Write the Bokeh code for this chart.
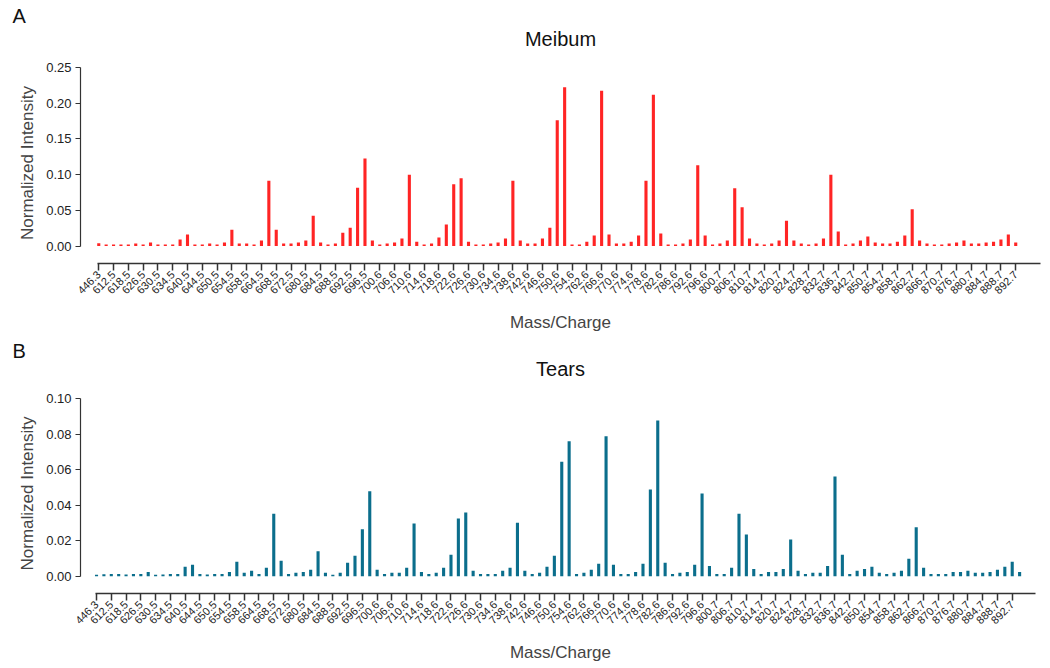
import math
from bokeh.plotting import figure
from bokeh.layouts import column
from bokeh.models import FixedTicker, NumeralTickFormatter, ColumnDataSource, Range1d, Title
from bokeh.embed import file_html
from bokeh.resources import INLINE

tick_labels = ["446.3", "612.5", "618.5", "626.5", "630.5", "634.5", "640.5", "644.5", "650.5",
               "654.5", "658.5", "664.5", "668.5", "672.5", "680.5", "684.5", "688.5", "692.5",
               "696.5", "700.6", "706.6", "710.6", "714.6", "718.6", "722.6", "726.6", "730.6",
               "734.6", "738.6", "742.6", "746.6", "750.6", "754.6", "762.6", "766.6", "770.6",
               "774.6", "778.6", "782.6", "786.6", "792.6", "796.6", "800.7", "806.7", "810.7",
               "814.7", "820.7", "824.7", "828.7", "832.7", "836.7", "842.7", "850.7", "854.7",
               "858.7", "862.7", "866.7", "870.7", "876.7", "880.7", "884.7", "888.7", "892.7"]

meibum = [0.004, 0.002, 0.002, 0.002, 0.002, 0.0035, 0.002, 0.005, 0.002, 0.002,
          0.002, 0.009, 0.016, 0.002, 0.002, 0.0035, 0.002, 0.005, 0.0226, 0.0035,
          0.0035, 0.002, 0.0077, 0.0913, 0.0226, 0.0035, 0.0035, 0.005, 0.0077, 0.0422,
          0.005, 0.002, 0.0035, 0.0184, 0.0254, 0.0817, 0.1225, 0.0077, 0.002, 0.0035,
          0.005, 0.0105, 0.0997, 0.006, 0.002, 0.0035, 0.012, 0.030, 0.0864, 0.0948,
          0.006, 0.002, 0.002, 0.0035, 0.005, 0.0105, 0.0913, 0.0077, 0.0035, 0.0035,
          0.0105, 0.0254, 0.176, 0.2225, 0.002, 0.002, 0.006, 0.0147, 0.2173, 0.016,
          0.0035, 0.0035, 0.006, 0.0147, 0.0913, 0.2117, 0.0175, 0.002, 0.002, 0.0035,
          0.009, 0.1132, 0.0147, 0.002, 0.0035, 0.0077, 0.081, 0.0544, 0.0105, 0.0035,
          0.002, 0.0035, 0.0077, 0.0352, 0.0077, 0.0035, 0.002, 0.0035, 0.0105, 0.0997,
          0.0203, 0.002, 0.0035, 0.0077, 0.0133, 0.005, 0.0035, 0.0035, 0.006, 0.0147,
          0.0516, 0.0077, 0.0035, 0.002, 0.002, 0.0035, 0.005, 0.0077, 0.0035, 0.0035,
          0.005, 0.006, 0.009, 0.016, 0.005]

tears = [0.0008, 0.0011, 0.0013, 0.0013, 0.0009, 0.0013, 0.0013, 0.0024, 0.0008, 0.0009,
         0.0013, 0.0013, 0.0053, 0.0064, 0.0013, 0.0009, 0.0013, 0.0013, 0.0024, 0.0081,
         0.0019, 0.003, 0.0013, 0.0047, 0.0352, 0.0087, 0.0013, 0.0019, 0.0024, 0.0036,
         0.0141, 0.0019, 0.0008, 0.0019, 0.0075, 0.0115, 0.0264, 0.0478, 0.0036, 0.0013,
         0.0019, 0.002, 0.0047, 0.0296, 0.0024, 0.0013, 0.0019, 0.0047, 0.012, 0.0324,
         0.0358, 0.003, 0.0013, 0.0013, 0.0013, 0.003, 0.0047, 0.0301, 0.003, 0.0013,
         0.0019, 0.0053, 0.0115, 0.0644, 0.0759, 0.0013, 0.0019, 0.0036, 0.007, 0.0787,
         0.0064, 0.0013, 0.0013, 0.0024, 0.007, 0.0488, 0.0876, 0.0075, 0.0013, 0.0019,
         0.0024, 0.0064, 0.0465, 0.0058, 0.0013, 0.0013, 0.0047, 0.0352, 0.0235, 0.0041,
         0.0013, 0.0024, 0.0024, 0.0041, 0.0207, 0.003, 0.0013, 0.0019, 0.0019, 0.0058,
         0.0561, 0.012, 0.0013, 0.003, 0.0041, 0.0053, 0.0019, 0.0013, 0.0019, 0.003,
         0.0098, 0.0275, 0.0047, 0.0013, 0.0013, 0.0013, 0.0024, 0.0024, 0.003, 0.0019,
         0.0019, 0.0024, 0.0036, 0.0053, 0.0081, 0.0024]

FONT = "Liberation Sans"


def make_panel(values, color, title, letter, x_range, y_range, y_ticks, y_bounds,
               x_bounds, border_top, border_bottom, height, title_standoff, letter_standoff):
    p = figure(width=1050, height=height, output_backend="svg", toolbar_location=None,
               x_range=Range1d(*x_range), y_range=Range1d(*y_range),
               min_border_left=80, min_border_right=10,
               min_border_top=border_top, min_border_bottom=border_bottom,
               title_location=None)
    src = ColumnDataSource(dict(x=list(range(len(values))), top=values))
    p.vbar(x="x", top="top", bottom=0, width=0.42, source=src,
           fill_color=color, line_color=None)
    p.outline_line_color = None
    p.grid.visible = False
    p.background_fill_color = "white"

    # titles: first added sits closest to the frame
    p.add_layout(Title(text=title, align="center", text_font=FONT, text_font_size="20px",
                       text_font_style="normal", text_color="#111111",
                       standoff=title_standoff), "above")
    p.add_layout(Title(text=letter, align="left", offset=-68, text_font=FONT,
                       text_font_size="20px", text_font_style="normal",
                       text_color="#111111", standoff=letter_standoff), "above")

    # x axis
    xa = p.xaxis[0]
    xa.ticker = FixedTicker(ticks=[2 * i for i in range(len(tick_labels))])
    xa.major_label_overrides = {2 * i: lab for i, lab in enumerate(tick_labels)}
    xa.major_label_orientation = math.pi / 4
    xa.major_label_text_font = FONT
    xa.major_label_text_font_size = "11px"
    xa.major_label_text_color = "#222222"
    xa.major_label_standoff = 2
    xa.major_tick_out = 7
    xa.major_tick_in = 0
    xa.minor_tick_out = 0
    xa.minor_tick_in = 0
    xa.axis_line_width = 1.5
    xa.major_tick_line_width = 1.5
    xa.axis_line_color = "#333333"
    xa.major_tick_line_color = "#333333"
    xa.bounds = x_bounds
    xa.axis_label = "Mass/Charge"
    xa.axis_label_text_font = FONT
    xa.axis_label_text_font_size = "17px"
    xa.axis_label_text_font_style = "normal"
    xa.axis_label_standoff = 12

    # y axis
    ya = p.yaxis[0]
    ya.ticker = FixedTicker(ticks=y_ticks)
    ya.formatter = NumeralTickFormatter(format="0.00")
    ya.major_label_text_font = FONT
    ya.major_label_text_font_size = "13px"
    ya.major_label_text_color = "#222222"
    ya.major_label_standoff = 4
    ya.major_tick_out = 5
    ya.major_tick_in = 0
    ya.minor_tick_out = 0
    ya.minor_tick_in = 0
    ya.axis_line_width = 1.2
    ya.major_tick_line_width = 1.2
    ya.axis_line_color = "#333333"
    ya.major_tick_line_color = "#333333"
    ya.bounds = y_bounds
    ya.axis_label = "Normalized Intensity"
    ya.axis_label_text_font = FONT
    ya.axis_label_text_font_size = "17px"
    ya.axis_label_text_font_style = "normal"
    ya.axis_label_standoff = 6
    return p


p1 = make_panel(meibum, "#FF2424", "Meibum", "A",
                x_range=(-2.47, 127.35), y_range=(-0.0245, 0.257),
                y_ticks=[0.0, 0.05, 0.10, 0.15, 0.20, 0.25], y_bounds=(0, 0.25),
                x_bounds=(-0.2, 127.3), border_top=62, border_bottom=71,
                height=334, title_standoff=26, letter_standoff=-28)

p2 = make_panel(tears, "#0B6E8C", "Tears", "B",
                x_range=(-2.17, 127.83), y_range=(-0.00974, 0.1028),
                y_ticks=[0.0, 0.02, 0.04, 0.06, 0.08, 0.10], y_bounds=(0, 0.10),
                x_bounds=(-0.2, 127.1), border_top=59, border_bottom=75,
                height=334, title_standoff=28, letter_standoff=-40)

layout = column(p1, p2, spacing=0)
open("out.html", "w").write(file_html(layout, INLINE))
